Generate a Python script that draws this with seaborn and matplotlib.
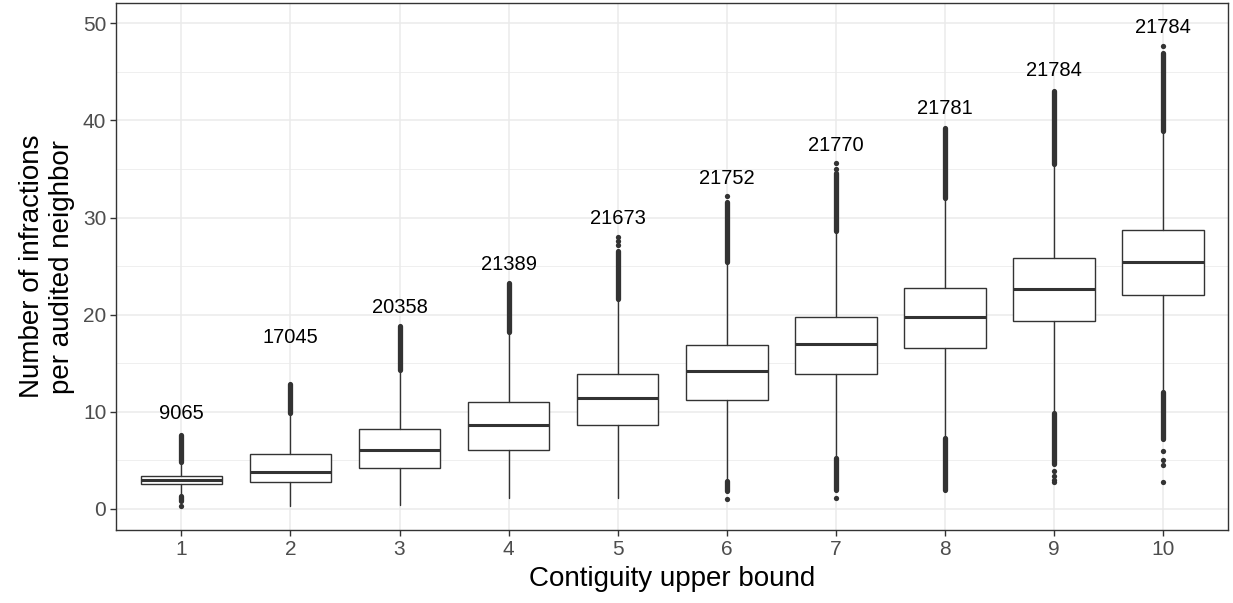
import numpy as np
import seaborn as sns
import matplotlib
matplotlib.use("Agg")
import matplotlib.pyplot as plt

# summary stats (one entry per contiguity bound)
bounds = [1, 2, 3, 4, 5, 6, 7, 8, 9, 10]
q1 = [2.5, 2.8, 4.15, 6.05, 8.6, 11.2, 13.9, 16.6, 19.3, 22.0]
med = [2.95, 3.8, 6.0, 8.65, 11.4, 14.2, 17.0, 19.8, 22.6, 25.4]
q3 = [3.4, 5.65, 8.2, 10.95, 13.9, 16.85, 19.8, 22.75, 25.8, 28.7]
whislo = [1.5, 0.3, 0.35, 1.05, 1.05, 3.0, 5.3, 7.4, 10.0, 12.1]
whishi = [4.7, 9.8, 14.2, 18.1, 21.5, 25.3, 28.5, 31.9, 35.4, 38.8]

# dense runs of outliers (they print as a solid streak of dots)
up_lo = [4.8, 9.9, 14.3, 18.2, 21.6, 25.4, 28.6, 32.0, 35.5, 38.9]
up_hi = [7.6, 12.8, 18.8, 23.3, 26.6, 31.6, 34.6, 39.2, 43.0, 47.0]
low_x = [1, 6, 7, 8, 9, 10]
low_lo = [0.8, 1.8, 1.9, 1.9, 4.6, 7.2]
low_hi = [1.3, 2.9, 5.2, 7.3, 9.9, 12.0]

# isolated outliers
pt_x = [1, 5, 5, 5, 6, 7, 7, 6, 7, 9, 9, 9, 9, 10, 10, 10, 10, 10]
pt_y = [0.3, 27.2, 27.6, 28.0, 32.2, 35.0, 35.6, 1.0, 1.1,
        3.9, 3.4, 3.0, 2.7, 47.7, 5.9, 5.0, 4.5, 2.7]

# group sizes printed above each box
counts = ["9065", "17045", "20358", "21389", "21673",
          "21752", "21770", "21781", "21784", "21784"]
label_y = [9.8, 17.6, 20.7, 25.2, 29.9, 34.0, 37.4, 41.2, 45.1, 49.6]

sns.set_theme(style="whitegrid")
plt.rcParams["font.family"] = ["Liberation Sans", "DejaVu Sans"]

dark = "#333333"
fig = plt.figure(figsize=(12.33, 6.03), dpi=100)
ax = fig.add_axes([0.0941, 0.121, 0.902, 0.874])

stats = []
for i in range(len(bounds)):
    stats.append(dict(med=med[i], q1=q1[i], q3=q3[i],
                      whislo=whislo[i], whishi=whishi[i], fliers=[]))

ax.bxp(stats, positions=bounds, widths=0.75, showcaps=False, showfliers=False,
       patch_artist=True,
       boxprops=dict(facecolor="white", edgecolor=dark, linewidth=1.0),
       whiskerprops=dict(color=dark, linewidth=1.0),
       medianprops=dict(color=dark, linewidth=2.2, solid_capstyle="butt"),
       zorder=3)

streak_w = 3.8
lc = ax.vlines(bounds, up_lo, up_hi, color=dark, linewidth=streak_w, zorder=4)
lc.set_capstyle("round")
lc2 = ax.vlines(low_x, low_lo, low_hi, color=dark, linewidth=streak_w, zorder=4)
lc2.set_capstyle("round")
sns.scatterplot(x=pt_x, y=pt_y, color=dark, s=streak_w ** 2, edgecolor=None,
                linewidth=0, ax=ax, zorder=4)

for x, y, t in zip(bounds, label_y, counts):
    ax.text(x, y, t, ha="center", va="center", fontsize=14.5, color="black", zorder=5)

ax.set_xlim(0.4, 10.6)
ax.set_ylim(-2.2, 52.1)
ax.set_xticks(bounds)
ax.set_xticklabels([str(b) for b in bounds])
ax.set_yticks([0, 10, 20, 30, 40, 50])
ax.set_yticks([5, 15, 25, 35, 45], minor=True)

ax.grid(True, which="major", color="#EBEBEB", linewidth=1.1)
ax.grid(True, which="minor", axis="y", color="#EBEBEB", linewidth=0.55)
ax.set_axisbelow(True)
for s in ax.spines.values():
    s.set_color(dark)
    s.set_linewidth(1.0)
    s.set_visible(True)

ax.tick_params(axis="both", which="major", length=4, width=1.0, color=dark,
               labelsize=15, labelcolor="#4D4D4D", pad=3, direction="out",
               bottom=True, left=True)
ax.tick_params(axis="both", which="minor", length=0)

ax.set_xlabel("Contiguity upper bound", fontsize=20, color="black", labelpad=5)
ax.set_ylabel("Number of infractions\nper audited neighbor", fontsize=20,
              color="black", labelpad=6, linespacing=1.2)

fig.savefig("out.png", dpi=100)
